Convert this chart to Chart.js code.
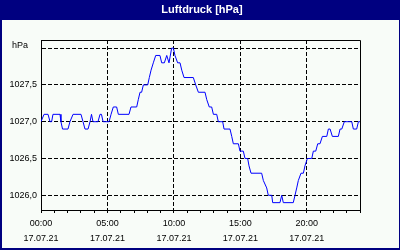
<!DOCTYPE html>
<html>
<head>
<meta charset="utf-8">
<script src="https://cdn.jsdelivr.net/npm/chart.js@4/dist/chart.umd.min.js"></script>
<style>
  body { margin: 0; background: #fff; }
  #wrap { width: 400px; height: 250px; }
</style>
</head>
<body>
<div id="wrap"><canvas id="luftdruck" width="400" height="250"></canvas></div>
<script>
var titleText = "Luftdruck [hPa]";
var yUnit = "hPa";

// hours since 00:00 on 17.07.21
var hours = [
  0, 0.23, 0.53, 0.68, 0.8, 0.9, 1.43, 1.5, 1.62, 2.03, 2.18, 2.41, 3.01, 3.16, 3.31, 3.54,
  3.69, 3.8, 3.91, 4.29, 4.44, 4.55, 4.67, 5.12, 5.27, 5.44, 5.69, 5.82, 6.62, 6.77, 7.2, 7.32,
  7.45, 7.57, 7.7, 8.03, 8.15, 8.28, 8.45, 8.63, 8.95, 9.08, 9.28, 9.46, 9.63, 9.83, 9.96, 10.08,
  10.28, 10.46, 10.59, 10.76, 11.46, 11.64, 11.84, 12.34, 12.47, 12.66, 12.84, 12.97, 13.22, 13.34,
  13.67, 13.77, 14.22, 14.35, 14.47, 14.85, 14.97, 15.22, 15.35, 15.55, 15.65, 15.8, 16.6, 16.73,
  16.98, 17.1, 17.36, 17.43, 17.98, 18.11, 18.23, 18.98, 19.11, 19.24, 19.36, 19.56, 19.74, 19.86,
  20.04, 20.37, 20.49, 20.67, 20.82, 20.99, 21.17, 21.5, 21.62, 21.75, 21.92, 22.37, 22.5, 22.63,
  22.82, 23.38, 23.5, 23.75, 23.88, 24.0
];
var pressure = [
  1027.0, 1027.1, 1027.1, 1027.0, 1027.0, 1027.1, 1027.1, 1027.0, 1026.9, 1026.9, 1027.0, 1027.1, 1027.1, 1027.0, 1026.9, 1026.9,
  1027.0, 1027.1, 1027.0, 1027.0, 1027.1, 1027.1, 1027.0, 1027.0, 1027.1, 1027.2, 1027.2, 1027.1, 1027.1, 1027.2, 1027.2, 1027.3,
  1027.4, 1027.4, 1027.5, 1027.5, 1027.6, 1027.7, 1027.8, 1027.9, 1027.9, 1027.8, 1027.8, 1027.9, 1027.8, 1028.0, 1028.0, 1027.9,
  1027.8, 1027.8, 1027.7, 1027.6, 1027.6, 1027.5, 1027.4, 1027.4, 1027.3, 1027.2, 1027.2, 1027.1, 1027.1, 1027.0,
  1027.0, 1026.9, 1026.9, 1026.8, 1026.7, 1026.7, 1026.6, 1026.6, 1026.5, 1026.5, 1026.4, 1026.3, 1026.3, 1026.2,
  1026.1, 1026.0, 1026.0, 1025.9, 1025.9, 1026.0, 1025.9, 1025.9, 1026.0, 1026.1, 1026.2, 1026.3, 1026.3, 1026.4,
  1026.5, 1026.5, 1026.6, 1026.6, 1026.7, 1026.7, 1026.8, 1026.8, 1026.9, 1026.9, 1026.8, 1026.8, 1026.9, 1026.9,
  1027.0, 1027.0, 1026.9, 1026.9, 1027.0, 1027.0
];

var labelHours = [0, 5, 10, 15, 20];
var timeLabels = ["00:00", "05:00", "10:00", "15:00", "20:00"];
var dateLabel = "17.07.21";
var yTicks = [1026.0, 1026.5, 1027.0, 1027.5, 1028.0];

var hourMarks = [];
for (var h = 0; h <= 24; h++) hourMarks.push(h);

var points = [];
for (var i = 0; i < hours.length; i++) {
  points.push({ x: hours[i], y: pressure[i] });
}

var smallFont = { family: "'Liberation Sans', Arial, sans-serif", size: 9 };

// navy frame, title bar, box around plot, unit label
var framePlugin = {
  id: 'frame',
  beforeDraw: function(chart) {
    var ctx = chart.ctx;
    ctx.save();
    ctx.fillStyle = '#000080';
    ctx.fillRect(0, 0, 400, 250);
    ctx.fillStyle = '#f8fcf8';
    ctx.fillRect(2, 20, 397, 228);
    ctx.fillStyle = '#ffffff';
    ctx.font = "bold 11px 'Liberation Sans', Arial, sans-serif";
    ctx.textAlign = 'center';
    ctx.textBaseline = 'middle';
    ctx.fillText(titleText, 202, 10);
    ctx.restore();
  },
  afterDraw: function(chart) {
    var ctx = chart.ctx;
    var a = chart.chartArea;
    ctx.save();
    ctx.strokeStyle = '#000';
    ctx.lineWidth = 1;
    ctx.beginPath();
    ctx.moveTo(a.left, a.top + 0.5);
    ctx.lineTo(a.right + 0.5, a.top + 0.5);
    ctx.lineTo(a.right + 0.5, a.bottom);
    ctx.stroke();
    ctx.fillStyle = '#000';
    ctx.font = "9px 'Liberation Sans', Arial, sans-serif";
    ctx.textAlign = 'left';
    ctx.textBaseline = 'middle';
    ctx.fillText(yUnit, 12, chart.scales.y.getPixelForValue(1028) - 3);
    ctx.restore();
  }
};

new Chart(document.getElementById('luftdruck'), {
  type: 'line',
  data: {
    datasets: [{
      label: titleText,
      data: points,
      borderColor: '#0000ff',
      borderWidth: 1,
      pointRadius: 0,
      tension: 0,
      fill: false
    }]
  },
  options: {
    responsive: false,
    animation: false,
    devicePixelRatio: 1,
    layout: { padding: { top: 40, right: 40, left: 0, bottom: 0 } },
    plugins: {
      legend: { display: false },
      tooltip: { enabled: false }
    },
    scales: {
      x: {
        type: 'linear',
        min: 0,
        max: 24,
        afterBuildTicks: function(s) {
          s.ticks = hourMarks.map(function(v) { return { value: v }; });
        },
        afterFit: function(s) { s.height = 40; },
        grid: {
          color: function(c) {
            return (c.tick && labelHours.indexOf(c.tick.value) > 0) ? '#000' : 'rgba(0,0,0,0)';
          },
          tickColor: '#000',
          tickLength: 3,
          lineWidth: 1
        },
        border: { color: '#000', dash: [4, 2] },
        ticks: {
          autoSkip: false,
          maxRotation: 0,
          padding: 3,
          color: '#000',
          font: { family: smallFont.family, size: 9, lineHeight: '15px' },
          callback: function(v) {
            var k = labelHours.indexOf(v);
            return k < 0 ? '' : [timeLabels[k], dateLabel];
          }
        }
      },
      y: {
        min: 1025.8,
        max: 1028.11,
        afterBuildTicks: function(s) {
          s.ticks = yTicks.map(function(v) { return { value: v }; });
        },
        afterFit: function(s) { s.width = 41; },
        grid: { color: '#000', drawTicks: false, lineWidth: 1 },
        border: { color: '#000', dash: [4, 2] },
        ticks: {
          padding: 4,
          color: '#000',
          font: smallFont,
          callback: function(v) {
            return v === 1028 ? '' : v.toFixed(1).replace('.', ',');
          }
        }
      }
    }
  },
  plugins: [framePlugin]
});
</script>
</body>
</html>
